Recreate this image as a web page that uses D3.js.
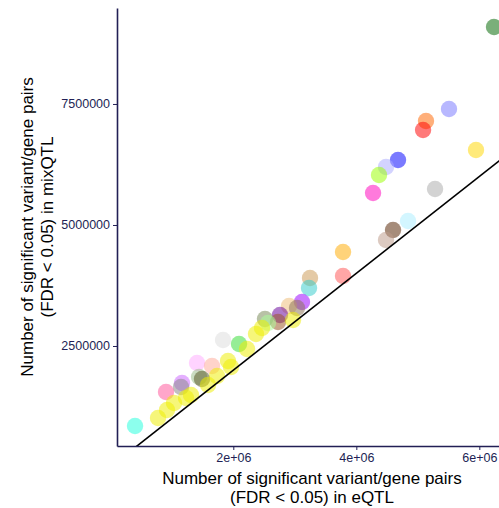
<!DOCTYPE html>
<html>
<head>
<meta charset="utf-8">
<script src="https://cdn.jsdelivr.net/npm/d3@7"></script>
<style>
  body { margin: 0; background: #fff; }
  svg { display: block; font-family: "Liberation Sans", Arial, sans-serif; }
</style>
</head>
<body>
<script>
// tissue points: eQTL pairs (x) vs mixQTL pairs (y)
var tissues = ["Thyroid", "Skin_Sun", "Adipose_Sub", "Artery_Tibial", "Nerve_Tibial", "Skin_NotSun",
  "Muscle", "Lung", "Whole_Blood", "Testis", "Fibroblasts", "Esoph_Mucosa", "Esoph_Muscularis",
  "Adipose_Visc", "Artery_Aorta", "Colon_Trans", "Breast", "Heart_AA", "Colon_Sigmoid", "Esoph_GJ",
  "Heart_LV", "Pancreas", "Spleen", "Pituitary", "Adrenal", "Prostate", "Ovary", "Artery_Coronary",
  "Minor_Salivary", "Small_Intestine", "EBV", "Uterus", "Vagina", "Kidney",
  "Brain1", "Brain2", "Brain3", "Brain4", "Brain5", "Brain6", "Brain7", "Brain8", "Brain9",
  "Brain10", "Brain11", "Brain12", "Brain13"];
var eqtl = [6239000, 5507000, 5133000, 5085000, 5946000, 4678000,
  4483000, 4369000, 4272000, 5280000, 4841000, 4597000, 4483000,
  3784000, 3784000, 3247000, 3231000, 3117000, 2906000, 3036000,
  2759000, 2727000, 2515000, 2564000, 2093000, 1833000, 1410000, 1654000,
  1443000, 1491000, 1166000, 1150000, 906000, 402000,
  776000, 922000, 1036000, 1231000, 1312000, 1589000, 1735000, 1914000, 1963000,
  2223000, 2369000, 2467000, 2971000];
var mixqtl = [9091000, 7397000, 7149000, 6963000, 6550000, 6343000,
  6198000, 6033000, 5661000, 5744000, 5083000, 4897000, 4690000,
  4442000, 3946000, 3905000, 3698000, 3409000, 3326000, 3285000,
  3141000, 2996000, 3058000, 2975000, 2541000, 2624000, 2149000, 2087000,
  1860000, 1818000, 1736000, 1653000, 1550000, 847000,
  1012000, 1178000, 1322000, 1426000, 1488000, 1694000, 1880000, 2190000, 2066000,
  2438000, 2748000, 2872000, 3037000];
var colors = ["#006600", "#7777FF", "#FF6600", "#FF0000", "#FFD700", "#0000FF",
  "#AAAAFF", "#99FF00", "#FF00BB", "#AAAAAA", "#AAEEFF", "#552200", "#BB9988",
  "#FFAA00", "#FF5555", "#CC9955", "#33CCCC", "#9900FF", "#EEBB77", "#8B7355",
  "#660099", "#995522", "#778855", "#AAFF99", "#33DD33", "#DDDDDD", "#FFAAFF", "#FFAA99",
  "#99BB88", "#555522", "#CC66FF", "#888888", "#FF5599", "#22FFDD",
  "#EEEE00", "#EEEE00", "#EEEE00", "#EEEE00", "#EEEE00", "#EEEE00", "#EEEE00", "#EEEE00", "#EEEE00",
  "#EEEE00", "#EEEE00", "#EEEE00", "#EEEE00"];
var xTicks = [2e6, 4e6, 6e6];
var xTickLabels = ["2e+06", "4e+06", "6e+06"];
var yTicks = [2500000, 5000000, 7500000];
var yTickLabels = ["2500000", "5000000", "7500000"];

var W = 499, H = 508;
// panel edges (note: "top" is reserved on window, so use pTop etc.)
var pLeft = 117, pRight = 507, pTop = 8, pBottom = 446;
var axisCol = "#221f55";

var svg = d3.select("body").append("svg")
  .attr("width", W)
  .attr("height", H);

var x = d3.scaleLinear().domain([108900, 6450000]).range([pLeft, pRight]);
var y = d3.scaleLinear().domain([434000, 9483000]).range([pBottom, pTop]);

svg.append("defs").append("clipPath").attr("id", "panel")
  .append("rect")
  .attr("x", pLeft).attr("y", pTop)
  .attr("width", pRight - pLeft).attr("height", pBottom - pTop);

var plot = svg.append("g").attr("clip-path", "url(#panel)");

// points
var pts = d3.range(tissues.length);
plot.selectAll("circle")
  .data(pts)
  .enter().append("circle")
  .attr("cx", function(i){ return x(eqtl[i]); })
  .attr("cy", function(i){ return y(mixqtl[i]); })
  .attr("r", 8.2)
  .attr("fill", function(i){ return colors[i]; })
  .attr("fill-opacity", 0.52);

// identity line y = x
var d0 = x.domain()[0], d1 = x.domain()[1];
plot.append("line")
  .attr("x1", x(d0)).attr("y1", y(d0))
  .attr("x2", x(d1)).attr("y2", y(d1))
  .attr("stroke", "black")
  .attr("stroke-width", 1.6);

// axes
var xAxis = d3.axisBottom(x).tickValues(xTicks)
  .tickFormat(function(d, i){ return xTickLabels[i]; })
  .tickSize(4).tickSizeOuter(0).tickPadding(3);
var yAxis = d3.axisLeft(y).tickValues(yTicks)
  .tickFormat(function(d, i){ return yTickLabels[i]; })
  .tickSize(4).tickSizeOuter(0).tickPadding(3);

var gx = svg.append("g").attr("transform", "translate(0," + pBottom + ")").call(xAxis);
var gy = svg.append("g").attr("transform", "translate(" + pLeft + ",0)").call(yAxis);

[gx, gy].forEach(function(g){
  g.attr("font-size", 12.5).attr("font-family", "'Liberation Sans', Arial, sans-serif");
  g.select(".domain").attr("stroke", axisCol).attr("stroke-width", 1.6);
  g.selectAll(".tick line").attr("stroke", axisCol).attr("stroke-width", 1);
  g.selectAll(".tick text").attr("fill", axisCol);
});

// axis titles
var xt = svg.append("text")
  .attr("text-anchor", "middle")
  .attr("fill", "black")
  .attr("font-size", 17);
xt.append("tspan").attr("x", (pLeft + pRight) / 2).attr("y", 484).text("Number of significant variant/gene pairs");
xt.append("tspan").attr("x", (pLeft + pRight) / 2).attr("y", 503).text("(FDR < 0.05) in eQTL");

var midY = (pTop + pBottom) / 2;
var yt = svg.append("text")
  .attr("transform", "translate(0," + midY + ") rotate(-90)")
  .attr("text-anchor", "middle")
  .attr("fill", "black")
  .attr("font-size", 17);
yt.append("tspan").attr("x", 0).attr("y", 33).text("Number of significant variant/gene pairs");
yt.append("tspan").attr("x", 0).attr("y", 53).text("(FDR < 0.05) in mixQTL");
</script>
</body>
</html>
